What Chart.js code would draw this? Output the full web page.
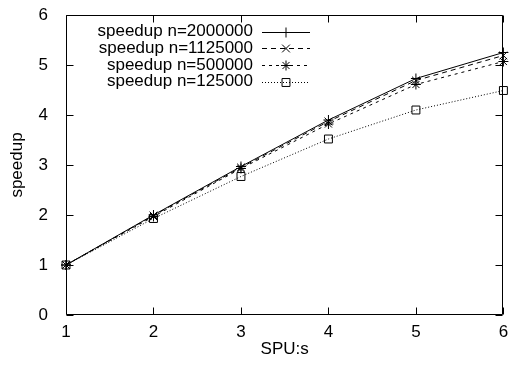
<!DOCTYPE html>
<html>
<head>
<meta charset="utf-8">
<script src="https://cdn.jsdelivr.net/npm/chart.js@4.4.1/dist/chart.umd.min.js"></script>
<style>
html,body{margin:0;padding:0;background:#fff;}
#wrap{width:510px;height:372px;}
</style>
</head>
<body>
<div id="wrap"><canvas id="c" width="510" height="372"></canvas></div>
<script>
const spus = [1, 2, 3, 4, 5, 6];
const seriesNames = ['speedup n=2000000', 'speedup n=1125000', 'speedup n=500000', 'speedup n=125000'];
const s2000000 = [1, 2.00, 2.97, 3.90, 4.73, 5.25];
const s1125000 = [1, 1.99, 2.95, 3.87, 4.69, 5.19];
const s500000  = [1, 1.97, 2.93, 3.82, 4.61, 5.07];
const s125000  = [1, 1.93, 2.77, 3.52, 4.10, 4.49];
const yTicks = [0, 1, 2, 3, 4, 5, 6];
const xTicks = [1, 2, 3, 4, 5, 6];

const FONT = {family: '"Liberation Sans", Arial, sans-serif', size: 17};

const styles = [
  {dash: [], pointStyle: 'cross', radius: 5},
  {dash: [5, 4], pointStyle: 'crossRot', radius: 5.5},
  {dash: [3, 4], pointStyle: 'star', radius: 5},
  {dash: [1, 2], pointStyle: 'rect', radius: 5.6}
];

const allSeries = [s2000000, s1125000, s500000, s125000];
const datasets = allSeries.map((vals, i) => ({
  label: seriesNames[i],
  data: spus.map((x, j) => ({x: x, y: vals[j]})),
  borderColor: '#000',
  backgroundColor: 'rgba(0,0,0,0)',
  borderWidth: 1,
  borderDash: styles[i].dash,
  pointStyle: styles[i].pointStyle,
  pointRadius: styles[i].radius,
  pointHoverRadius: styles[i].radius,
  pointBorderColor: '#000',
  pointBackgroundColor: 'rgba(0,0,0,0)',
  pointBorderWidth: 1,
  tension: 0,
  fill: false,
  clip: false
}));

const framePlugin = {
  id: 'frame',
  afterDatasetsDraw(chart) {
    const {ctx, chartArea: a, scales} = chart;
    const L = Math.round(a.left) + 0.5, R = Math.round(a.right) - 0.5;
    const T = Math.round(a.top) + 0.5, B = Math.round(a.bottom) - 0.5;
    ctx.save();
    ctx.strokeStyle = '#000';
    ctx.lineWidth = 1;
    ctx.setLineDash([]);
    ctx.beginPath();
    ctx.rect(L, T, R - L, B - T);
    const tl = 7;
    xTicks.forEach(v => {
      const px = Math.round(scales.x.getPixelForValue(v)) + 0.5;
      ctx.moveTo(px, B); ctx.lineTo(px, B - tl);
      ctx.moveTo(px, T); ctx.lineTo(px, T + tl);
    });
    yTicks.forEach(v => {
      const py = Math.round(scales.y.getPixelForValue(v)) + 0.5;
      ctx.moveTo(L, py); ctx.lineTo(L + tl, py);
      ctx.moveTo(R, py); ctx.lineTo(R - tl, py);
    });
    ctx.stroke();

    // legend (gnuplot style: right-aligned text, then sample)
    ctx.font = FONT.size + 'px ' + FONT.family;
    ctx.fillStyle = '#000';
    ctx.textAlign = 'right';
    ctx.textBaseline = 'middle';
    const textRight = 253, x0 = 262, x1 = 310, y0 = 31.5, dy = 16.7;
    chart.data.datasets.forEach((ds, i) => {
      const y = y0 + i * dy;
      ctx.fillText(ds.label, textRight, y);
      ctx.save();
      ctx.setLineDash(ds.borderDash);
      ctx.beginPath();
      ctx.moveTo(x0, Math.round(y) + 0.5);
      ctx.lineTo(x1, Math.round(y) + 0.5);
      ctx.stroke();
      ctx.restore();
      ctx.save();
      ctx.setLineDash([]);
      ctx.strokeStyle = '#000';
      ctx.fillStyle = 'rgba(0,0,0,0)';
      ctx.lineWidth = 1;
      Chart.helpers.drawPoint(ctx, {pointStyle: ds.pointStyle, radius: ds.pointRadius, rotation: 0, borderWidth: 1}, (x0 + x1) / 2, Math.round(y) + 0.5);
      ctx.restore();
    });
    ctx.restore();
  }
};

new Chart(document.getElementById('c'), {
  type: 'line',
  data: {datasets: datasets},
  options: {
    responsive: false,
    animation: false,
    devicePixelRatio: 1,
    layout: {padding: {left: 0, right: 6, top: 15, bottom: 0}},
    plugins: {legend: {display: false}, tooltip: {enabled: false}},
    elements: {line: {borderJoinStyle: 'miter'}},
    scales: {
      x: {
        type: 'linear', min: 1, max: 6,
        afterBuildTicks: s => { s.ticks = xTicks.map(v => ({value: v})); },
        afterFit: s => { s.height = 57; s.paddingLeft = 0; s.paddingRight = 0; },
        grid: {display: false, drawTicks: false},
        border: {display: false},
        ticks: {color: '#000', font: FONT, padding: 7, maxRotation: 0},
        title: {display: true, text: 'SPU:s', color: '#000', font: FONT, padding: {top: 0, bottom: 12}}
      },
      y: {
        type: 'linear', min: 0, max: 6,
        afterBuildTicks: s => { s.ticks = yTicks.map(v => ({value: v})); },
        afterFit: s => { s.width = 66; s.paddingTop = 0; s.paddingBottom = 0; },
        grid: {display: false, drawTicks: false},
        border: {display: false},
        ticks: {color: '#000', font: FONT, padding: 18},
        title: {display: true, text: 'speedup', color: '#000', font: FONT, padding: {top: 7, bottom: 0}}
      }
    }
  },
  plugins: [framePlugin]
});
</script>
</body>
</html>
